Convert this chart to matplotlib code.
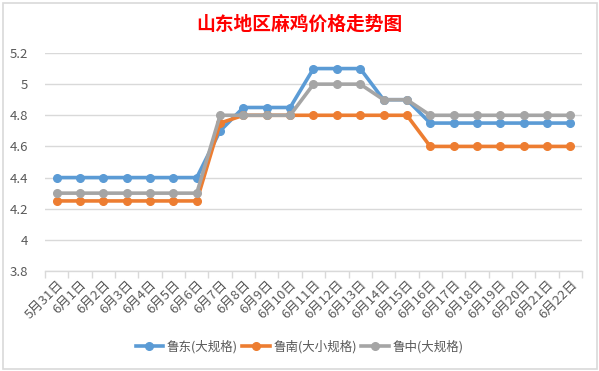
import numpy as np
import matplotlib.pyplot as plt
from matplotlib.lines import Line2D
from matplotlib.patches import Rectangle

plt.rcParams['font.family'] = ['Noto Sans CJK SC', 'DejaVu Sans']

# 日期
dates = ["5月31日"] + ["6月%d日" % d for d in range(1, 23)]

# 价格
ludong = [4.4, 4.4, 4.4, 4.4, 4.4, 4.4, 4.4, 4.7, 4.85, 4.85, 4.85, 5.1, 5.1, 5.1,
          4.9, 4.9, 4.75, 4.75, 4.75, 4.75, 4.75, 4.75, 4.75]
lunan = [4.25, 4.25, 4.25, 4.25, 4.25, 4.25, 4.25, 4.75, 4.8, 4.8, 4.8, 4.8, 4.8, 4.8,
         4.8, 4.8, 4.6, 4.6, 4.6, 4.6, 4.6, 4.6, 4.6]
luzhong = [4.3, 4.3, 4.3, 4.3, 4.3, 4.3, 4.3, 4.8, 4.8, 4.8, 4.8, 5.0, 5.0, 5.0,
           4.9, 4.9, 4.8, 4.8, 4.8, 4.8, 4.8, 4.8, 4.8]
names = ["鲁东(大规格)", "鲁南(大小规格)", "鲁中(大规格)"]
colors = ["#5B9BD5", "#ED7D31", "#A5A5A5"]

fig = plt.figure(figsize=(5.99, 3.71), dpi=100)

# 图表外框
fig.patches.append(Rectangle((2.5 / 599, 2.5 / 371), 594 / 599, 366 / 371,
                             transform=fig.transFigure, fill=False,
                             edgecolor="#D9D9D9", linewidth=1.2))

ax = fig.add_axes([45 / 599, 1 - 271 / 371, 537 / 599, 218 / 371])
x = np.arange(len(dates))
for ys, c, n in zip([ludong, lunan, luzhong], colors, names):
    ax.plot(x, ys, color=c, linewidth=2.6, marker="o", markersize=5.5, label=n)

ax.set_xlim(-0.5, len(dates) - 0.5)
ax.set_ylim(3.8, 5.2)
ax.set_yticks([3.8, 4, 4.2, 4.4, 4.6, 4.8, 5, 5.2])
ax.set_yticklabels(["3.8", "4", "4.2", "4.4", "4.6", "4.8", "5", "5.2"])
ax.grid(axis="y", color="#D9D9D9", linewidth=1)
ax.set_axisbelow(True)
for s in ["top", "right", "left"]:
    ax.spines[s].set_visible(False)
ax.spines["bottom"].set_color("#D9D9D9")
ax.spines["bottom"].set_linewidth(1)
ax.tick_params(axis="y", length=0, labelsize=9.5, labelcolor="#595959", pad=12)

# 分类刻度在格子边界
ax.set_xticks(np.arange(-0.5, len(dates), 1))
ax.set_xticklabels([])
ax.tick_params(axis="x", which="major", length=5, color="#D9D9D9", width=1)
ax.set_xticks(x, minor=True)
ax.set_xticklabels(dates, minor=True, rotation=45, ha="right", va="top",
                   rotation_mode="anchor", fontsize=9.5, color="#595959")
ax.tick_params(axis="x", which="minor", length=0, pad=5)

fig.text(0.5, 1 - 24 / 371, "山东地区麻鸡价格走势图", color="red", fontsize=13.5,
         fontweight="bold", ha="center", va="center")

handles = [Line2D([], [], color=c, linewidth=2.6, marker="o", markersize=5.5)
           for c in colors]
fig.legend(handles, names, loc="center", bbox_to_anchor=(0.5, 1 - 347 / 371),
           ncol=3, frameon=False, fontsize=9, labelcolor="#595959",
           handlelength=2.2, handletextpad=0.3, columnspacing=0.35)

plt.savefig("out.png", dpi=100)
